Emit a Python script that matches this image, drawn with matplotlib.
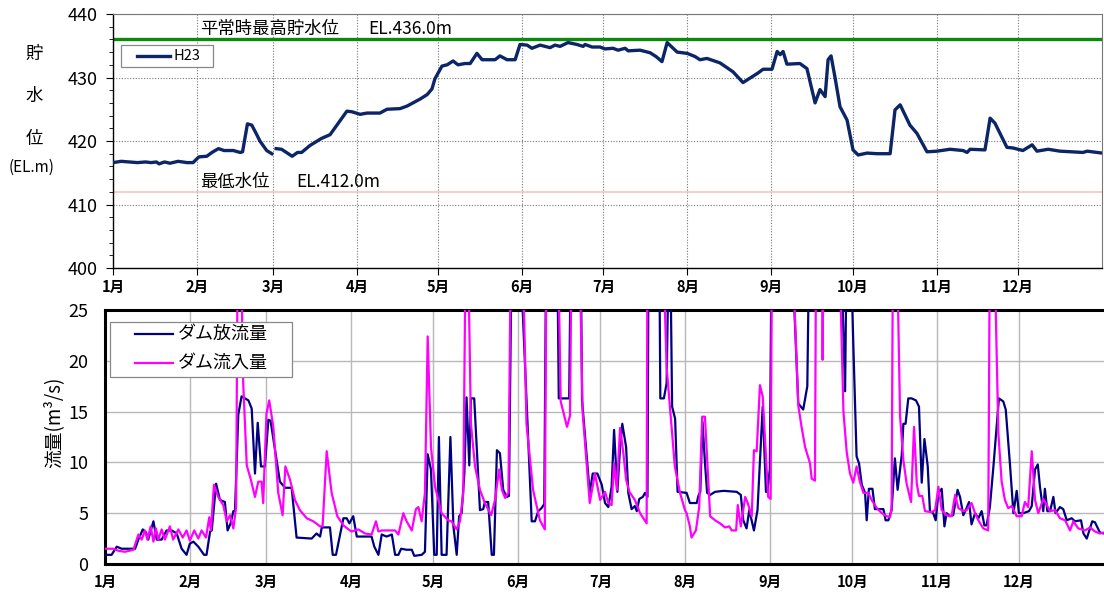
import matplotlib
matplotlib.use("Agg")
import numpy as np
import matplotlib.pyplot as plt
from matplotlib.patches import Rectangle

plt.rcParams['font.family'] = ['Noto Sans CJK JP', 'DejaVu Sans']

# 月の区切り (通日)
month_start = [0, 31, 59, 90, 120, 151, 181, 212, 243, 273, 304, 334]
month_labels = ["1月", "2月", "3月", "4月", "5月", "6月",
                "7月", "8月", "9月", "10月", "11月", "12月"]

max_level = 436.0   # 平常時最高貯水位
min_level = 412.0   # 最低水位

# 貯水位 H23 (通日, EL.m) nan = 欠測
level_day = [0, 3, 6, 9, 12, 14, 16, 17, 19, 21, 24, 27.3, 29.5, 31.7, 34.6, 36.5,
             38.9, 41, 44.4, 46.9, 47.8, 49.6, 51.2, 52.8, 54.2, 56.7, 58.6, 59.2,
             60.2, 62.2, 66.1, 68.1, 69.6, 72.7, 76.9, 80.1, 82.6, 86.3, 88.2,
             91.2, 93.7, 98.5, 101.1, 105.9, 108.5, 110.7, 113.3, 115.9, 117.7,
             118.8, 121.4, 123.3, 125.5, 127.3, 129.9, 131.8, 134.3, 136.2, 139.1,
             141.0, 142.8, 145.4, 148.4, 150.2, 152.8, 154.6, 157.6, 159.4, 161.3,
             163.1, 165.0, 167.9, 171.2, 173.5, 174.2, 176.8, 179.7, 181.6, 184.5,
             186.4, 189.0, 190.1, 194.5, 198.2, 200.4, 202.6, 204.5, 208.2, 211.9,
             214.8, 216.6, 219.2, 224.0, 228.8, 232.5, 235.1, 238.0, 239.9, 243.2,
             245.1, 246.2, 247.3, 248.7, 253.5, 256.1, 259.1, 260.9, 262.8, 263.9,
             265.0, 266.5, 268.3, 270.9, 273.1, 275.0, 278.3, 282, 286.8, 288.6,
             290.5, 294.1, 296.7, 300.4, 304.1, 308.9, 313.7, 315.2, 316.3, 321.8,
             323.7, 325.5, 329.9, 332.2, 335.8, 339.2, 341.0, 345.1, 349.5, 354,
             358.0, 359.5, 365.0]
level_val = [416.6, 416.8, 416.7, 416.6, 416.7, 416.6, 416.7, 416.4, 416.7, 416.5,
             416.8, 416.6, 416.6, 417.5, 417.6, 418.2, 418.8, 418.5, 418.5, 418.2,
             418.3, 422.7, 422.5, 421.2, 420.0, 418.5, 418.0, np.nan,
             418.8, 418.7, 417.6, 418.2, 418.2, 419.3, 420.4, 421.0, 422.5, 424.7,
             424.6, 424.2, 424.4, 424.4, 425.0, 425.1, 425.5, 426.0, 426.6, 427.3,
             428.2, 429.8, 431.8, 432.0, 432.6, 432.0, 432.2, 432.2, 433.8, 432.8,
             432.8, 432.8, 433.4, 432.8, 432.8, 435.2, 435.1, 434.6, 435.1, 434.9,
             434.7, 435.1, 434.9, 435.5, 435.2, 434.9, 435.2, 434.8, 434.8, 434.5,
             434.6, 434.3, 434.6, 434.2, 434.3, 433.9, 433.3, 432.5, 435.5, 434.0,
             433.8, 433.3, 432.8, 433.0, 432.3, 430.9, 429.2, 429.9, 430.7, 431.3,
             431.3, 434.1, 433.6, 434.1, 432.1, 432.2, 431.4, 426.0, 428.1, 427.0,
             432.8, 433.4, 429.9, 425.4, 423.3, 418.6, 417.8, 418.1, 418.0, 418.0,
             424.9, 425.7, 422.5, 421.2, 418.3, 418.4, 418.7, 418.5, 418.2, 418.7,
             418.6, 423.6, 422.8, 419.0, 418.9, 418.5, 419.4, 418.4, 418.7, 418.4,
             418.3, 418.2, 418.4, 418.1]

# ダム放流量 (通日, m3/s)
out_day = [0.4, 2.4, 4.3, 6.1, 11.0, 12.2, 13.8, 15.0, 15.8, 17.7, 18.9, 20.7, 22.5,
           24.4, 26.2, 28.0, 29.8, 31.0, 32.3, 34.1, 36.2, 37.1, 38.4, 39.0, 40.6,
           42.0, 43.8, 44.8, 45.9, 46.9, 47.5, 48.7, 49.9, 52.4, 53.6, 54.8, 55.8,
           57.0, 58.4, 59.7, 60.5, 62.7, 63.9, 65.8, 68.2, 70.0, 75.5, 77.3, 78.6,
           79.2, 82.2, 83.2, 84.4, 85.9, 87.1, 88.3, 89.3, 90.7, 92.0, 97.4, 98.4,
           99.9, 101.1, 102.9, 104.8, 106.0, 107.2, 108.2, 110.2, 112.1, 113.0,
           115.7, 116.9, 117.9, 119.1, 120.3, 121.2, 122.0, 123.0, 124.8, 126.2,
           127.3, 128.5, 129.4, 130.3, 131.3, 132.1, 133.1, 133.7, 134.9, 137.0,
           138.2, 138.8, 140.0, 141.3, 142.1, 143.2, 144.3, 145.5, 146.8, 147.6,
           148.6, 151.5, 155.9, 157.1, 158.3, 159.5, 160.5, 161.2, 165.2, 165.8,
           169.6, 170.2, 173.8, 174.3, 175.3, 177.1, 178.2, 179.9, 181.5, 182.7,
           183.9, 185.1, 186.0, 187.2, 188.2, 189.0, 190.4, 191.2, 192.4, 193.6,
           194.3, 195.2, 196.5, 197.3, 198.2, 198.6, 202.5, 202.9, 204.2, 205.2,
           206.0, 206.5, 207.2, 208.3, 209.2, 212.5, 213.7, 216.2, 216.8, 217.5,
           218.3, 219.2, 220.0, 221.1, 222.9, 226.0, 230.8, 232.3, 233.2, 234.4,
           235.4, 237.1, 238.4, 240.3, 241.5, 242.0, 242.9, 243.6, 250.8, 253.3,
           255.1, 256.6, 257.3, 268.8, 270.4, 271.0, 272.4, 273.4, 274.6, 275.5,
           276.5, 277.7, 278.3, 279.1, 280.4, 281.3, 284.4, 285.2, 286.2, 287.4,
           288.6, 289.6, 291.1, 291.7, 292.5, 293.5, 294.7, 296.3, 297.4, 298.4,
           299.4, 300.6, 301.4, 302.6, 303.5, 304.5, 305.7, 306.7, 307.5, 308.7,
           309.9, 311.5, 312.4, 313.6, 314.8, 315.7, 316.6, 317.9, 319.1, 320.3,
           321.3, 322.1, 323.3, 324.6, 326.6, 328.2, 329.1, 330.7, 331.9, 333.1,
           333.9, 335.5, 337.6, 338.6, 339.8, 340.8, 341.6, 342.8, 343.4, 344.3,
           345.3, 346.5, 347.3, 348.9, 350.1, 351.4, 353.2, 354.4, 356.6, 357.5,
           358.7, 360.7, 361.7, 363.5, 365.0]
out_val = [0.9, 0.9, 1.7, 1.5, 1.5, 2.4, 3.4, 3.1, 2.4, 4.2, 2.4, 2.4, 3.3,
           3.3, 3.0, 1.5, 0.9, 2.0, 2.2, 1.7, 0.9, 0.9, 3.2, 3.3, 7.9,
           6.3, 6.1, 3.3, 4.0, 5.2, 5.2, 14.7, 16.5, 16.1, 15.3, 8.9, 13.9,
           9.6, 9.6, 14.2, 14.1, 10.2, 8.1, 7.5, 7.5, 2.6, 2.5, 3.0, 2.7,
           3.6, 3.6, 0.9, 0.9, 2.9, 4.5, 4.5, 4.0, 4.7, 2.7, 2.7, 1.7,
           0.9, 2.9, 2.7, 2.9, 0.9, 0.9, 1.5, 1.4, 1.4, 0.8,
           0.9, 1.2, 10.8, 9.3, 0.9, 0.9, 12.5, 0.9, 0.9, 12.5,
           3.7, 0.9, 4.7, 5.0, 8.9, 16.4, 9.7, 16.3, 16.3, 5.3,
           5.4, 6.1, 6.1, 0.9, 0.9, 11.2, 10.9, 7.3, 6.6, 6.7,
           32, 32, 4.2, 4.2, 5.2, 5.5, 5.9, 32, 32, 16.3,
           16.3, 32, 32, 16.1, 12.9, 7.0, 8.9, 8.9, 7.8, 6.0,
           5.6, 7.6, 13.2, 7.1, 11.5, 13.8, 11.5, 7.0, 5.4, 5.7,
           5.2, 6.4, 6.6, 7.0, 6.6, 32, 32, 16.3, 16.3, 17.8,
           32, 32, 15.5, 14.3, 7.1, 7.0, 6.0, 6.0, 6.7, 7.1,
           14.0, 10.0, 7.0, 6.8, 7.1, 7.2, 7.1, 6.8, 4.3, 3.5,
           5.3, 3.3, 5.3, 15.5, 7.1, 7.1, 9.3, 32, 32, 15.8,
           15.2, 17.5, 32, 32, 17.0, 32, 32, 21.7, 10.6, 9.9,
           7.8, 7.0, 4.3, 7.4, 7.4, 5.4, 5.4, 4.3, 4.3, 5.3,
           10.4, 7.3, 10.7, 13.8, 13.8, 16.3, 16.3, 16.1, 15.5, 8.0,
           12.3, 9.6, 5.2, 5.0, 4.3, 7.0, 7.4, 3.7, 5.0, 4.7,
           4.8, 7.3, 6.6, 4.8, 5.5, 6.1, 3.9, 5.0, 4.5, 5.2,
           3.8, 3.8, 5.6, 9.6, 16.3, 16.0, 15.2, 9.6, 5.0, 7.2,
           5.0, 5.0, 5.2, 5.7, 9.3, 9.8, 7.6, 5.2, 7.4, 5.2,
           5.2, 6.6, 5.0, 5.6, 5.4, 4.3, 4.5, 4.2, 4.3, 3.0,
           2.5, 4.2, 4.1, 3.1, 3.0]

# ダム流入量 (通日, m3/s)
in_day = [0.4, 3.0, 4.9, 7.3, 10.4, 12.2, 13.4, 14.6, 15.5, 16.7, 17.7, 18.6, 19.5,
          20.7, 21.9, 23.7, 24.9, 26.8, 28.4, 29.8, 31.0, 32.6, 34.1, 35.3, 36.9,
          38.1, 38.7, 39.8, 41.4, 43.2, 44.5, 45.7, 46.9, 47.9, 48.8, 50.5, 51.8,
          53.2, 54.8, 56.0, 57.2, 57.8, 59.0, 60.0, 61.5, 63.3, 64.9, 65.9, 67.6,
          69.4, 71.2, 73.7, 76.1, 78.6, 79.5, 81.0, 82.8, 84.9, 87.1, 89.5, 90.1,
          92.6, 95.0, 97.4, 99.0, 99.9, 101.1, 104.8, 106.0, 107.2, 109.0, 110.2,
          112.1, 113.6, 114.5, 115.7, 116.9, 117.9, 119.1, 120.6, 123.0, 125.4,
          126.6, 128.5, 129.7, 130.9, 132.1, 133.7, 135.2, 137.0, 138.8, 141.1,
          142.5, 143.5, 144.0, 145.0, 146.2, 147.4, 148.3, 152.5, 154.0, 156.4,
          158.9, 160.7, 161.3, 165.5, 166.5, 168.8, 169.9, 170.5, 173.3, 174.5,
          177.1, 179.0, 180.9, 182.7, 183.9, 185.1, 186.0, 187.0, 188.2, 189.4,
          190.4, 191.6, 193.6, 195.5, 197.9, 198.2, 203.8, 205.2, 207.0, 208.2,
          210.1, 211.9, 212.5, 213.7, 214.3, 215.9, 217.1, 218.2, 219.2, 221.1,
          222.9, 224.7, 226.5, 228.1, 229.0, 230.6, 231.2, 232.3, 233.9, 234.7,
          236.3, 237.1, 238.1, 239.3, 240.3, 242.3, 243.2, 243.7, 251.0, 253.3,
          254.5, 255.8, 257.6, 258.2, 259.4, 259.8, 262.0, 262.2, 262.5, 268.2,
          269.8, 271.0, 272.2, 273.4, 274.6, 275.8, 277.1, 278.9, 280.1, 282.0,
          283.8, 285.6, 286.8, 287.4, 287.9, 289.3, 290.5, 291.7, 292.9, 294.5,
          295.6, 296.6, 297.4, 298.6, 299.6, 302.0, 303.3, 304.5, 305.7, 307.5,
          309.3, 310.6, 311.8, 313.6, 314.8, 316.6, 317.9, 319.1, 320.9, 322.7,
          323.3, 324.9, 326.4, 327.6, 328.8, 330.0, 331.3, 333.1, 334.9, 336.1,
          337.3, 338.6, 339.8, 341.0, 342.8, 344.1, 345.3, 347.1, 348.9, 350.8,
          352.6, 353.8, 355.6, 358.1, 359.9, 361.7, 363.5, 365.0]
in_val = [1.5, 1.5, 1.3, 1.2, 1.4, 2.9, 2.4, 3.3, 2.4, 3.7, 2.2, 3.5, 2.4,
          3.4, 2.4, 3.7, 2.4, 3.4, 2.6, 3.3, 2.3, 3.3, 2.5, 3.3, 2.6,
          4.6, 3.3, 7.8, 6.6, 5.8, 4.2, 4.8, 3.5, 5.6, 45, 17.8, 9.7,
          8.4, 6.6, 8.1, 8.1, 6.0, 14.8, 16.1, 13.5, 7.0, 4.8, 9.6, 8.3,
          6.3, 5.3, 4.5, 4.2, 3.7, 3.7, 11.1, 7.0, 4.7, 3.8, 3.3, 3.2,
          3.4, 3.0, 2.9, 4.2, 3.2, 3.3, 3.3, 3.3, 2.9, 5.0, 4.2,
          3.3, 5.4, 5.6, 4.2, 7.0, 22.4, 11.5, 7.6, 5.0, 4.3,
          4.2, 3.4, 4.2, 7.0, 40, 13.8, 9.6, 7.3, 6.0, 4.8,
          6.3, 8.3, 9.3, 7.3, 6.5, 7.0, 32, 32, 13.8, 7.3,
          4.3, 3.4, 32, 32, 16.0, 13.5, 14.6, 32, 32, 15.0,
          6.0, 8.9, 6.3, 7.1, 6.0, 5.8, 9.9, 7.3, 13.4, 10.9,
          8.3, 7.1, 6.3, 5.0, 4.0, 32, 32, 19.4, 13.5, 9.6,
          7.0, 5.3, 5.0, 3.7, 2.6, 3.3, 5.6, 14.5, 14.5, 4.7,
          4.3, 4.0, 3.6, 3.7, 3.3, 3.3, 5.8, 3.7, 6.6, 6.1,
          4.7, 11.2, 11.1, 17.6, 16.5, 6.6, 6.4, 32, 32, 15.6,
          13.5, 11.5, 9.9, 8.4, 8.2, 32, 32, 20.1, 32, 32,
          15.0, 11.0, 8.9, 8.0, 9.6, 8.1, 7.0, 7.0, 6.3, 5.5,
          5.0, 4.7, 4.6, 5.4, 32, 32, 14.5, 10.2, 7.9, 6.1,
          13.5, 7.9, 6.7, 6.7, 5.2, 5.1, 5.3, 7.6, 5.3, 4.8,
          4.7, 6.8, 5.5, 5.2, 5.3, 6.0, 5.0, 4.3, 3.5, 3.3,
          32, 32, 12.9, 8.1, 6.3, 5.5, 5.7, 4.7, 4.7, 6.1,
          5.6, 11.1, 6.3, 5.0, 6.4, 5.8, 5.2, 5.3, 4.5, 4.3,
          3.3, 4.2, 3.5, 3.3, 3.6, 3.2, 3.0, 3.1]


def legend_box(ax, box, items, fontsize):
    # 凡例を枠・線・文字で描く (axes 座標)
    x0, y0, w, h = box
    ax.add_patch(Rectangle((x0, y0), w, h, transform=ax.transAxes,
                           facecolor='white', edgecolor='#888888', lw=0.9,
                           zorder=5))
    for (lx0, lx1, ly, tx), (label, color, lw) in items:
        ax.plot([lx0, lx1], [ly, ly], transform=ax.transAxes, color=color,
                lw=lw, zorder=6, clip_on=False)
        ax.text(tx, ly, label, transform=ax.transAxes, fontsize=fontsize,
                va='center', ha='left', zorder=6)


fig = plt.figure(figsize=(11.04, 5.98), dpi=100)
ax1 = fig.add_axes([0.1024, 0.5518, 0.8958, 0.4248])
ax2 = fig.add_axes([0.0951, 0.0569, 0.9049, 0.4247])

# ---- 貯水位 ----
ax1.axhline(min_level, color='#f4c6c6', lw=1.2, zorder=2)
ax1.axhline(max_level, color='#0a8a0a', lw=2.4, zorder=2)
ax1.plot(level_day, level_val, color='#0b2566', lw=2.4,
         solid_joinstyle='round', zorder=3)
ax1.set_xlim(0, 365)
ax1.set_ylim(400, 440)
ax1.set_yticks(range(400, 441, 10))
ax1.set_yticks(range(400, 441, 2), minor=True)
ax1.set_xticks(month_start)
ax1.set_xticklabels(month_labels, fontsize=10.5, fontweight='bold')
ax1.tick_params(axis='y', labelsize=13, length=5, pad=6)
ax1.tick_params(axis='y', which='minor', length=3)
ax1.tick_params(axis='x', length=5, pad=3)
ax1.grid(True, which='major', color='#777777', linestyle=(0, (1, 1.5)), lw=0.8)
for s in ['left', 'bottom']:
    ax1.spines[s].set_color('black')
    ax1.spines[s].set_linewidth(1.0)
for s in ['top', 'right']:
    ax1.spines[s].set_color('#777777')
    ax1.spines[s].set_linewidth(0.8)

ax1.text(32.1, 437.6, "平常時最高貯水位", fontsize=12.5, va='center')
ax1.text(94.1, 437.6, "EL.436.0m", fontsize=12.5, va='center')
ax1.text(32.1, 413.6, "最低水位", fontsize=12.5, va='center')
ax1.text(67.5, 413.6, "EL.412.0m", fontsize=12.5, va='center')

legend_box(ax1, (0.0081, 0.791, 0.093, 0.0866),
           [((0.0243, 0.0576, 0.835, 0.0607), ("H23", '#0b2566', 2.4))], 10.5)

fig.text(0.031, 0.909, "貯", fontsize=12.5, ha='center', va='center')
fig.text(0.031, 0.839, "水", fontsize=12.5, ha='center', va='center')
fig.text(0.031, 0.768, "位", fontsize=12.5, ha='center', va='center')
fig.text(0.029, 0.721, "(EL.m)", fontsize=11, ha='center', va='center')

# ---- 流量 ----
ax2.plot(out_day, out_val, color='#000080', lw=1.6, zorder=3)
ax2.plot(in_day, in_val, color='#ff00ff', lw=1.6, zorder=3)
ax2.set_xlim(0, 365)
ax2.set_ylim(0, 25)
ax2.set_yticks(range(0, 26, 5))
ax2.set_xticks(month_start)
ax2.set_xticklabels(month_labels, fontsize=10.5, fontweight='bold')
ax2.tick_params(axis='y', labelsize=13, length=0, pad=12)
ax2.tick_params(axis='x', length=0, pad=7)
ax2.grid(True, color='#b8b8b8', lw=1.0)
for s in ['left', 'top', 'bottom']:
    ax2.spines[s].set_color('black')
    ax2.spines[s].set_linewidth(2.2)
ax2.spines['right'].set_visible(False)

legend_box(ax2, (0.005, 0.736, 0.182, 0.2165),
           [((0.030, 0.068, 0.906, 0.073), ("ダム放流量", '#000080', 1.6)),
            ((0.030, 0.068, 0.791, 0.073), ("ダム流入量", '#ff00ff', 1.6))], 13)

fig.text(0.049, 0.294, "流量(m³/s)", fontsize=13.5, rotation=90,
         ha='center', va='center')

fig.savefig("out.png", dpi=100)
